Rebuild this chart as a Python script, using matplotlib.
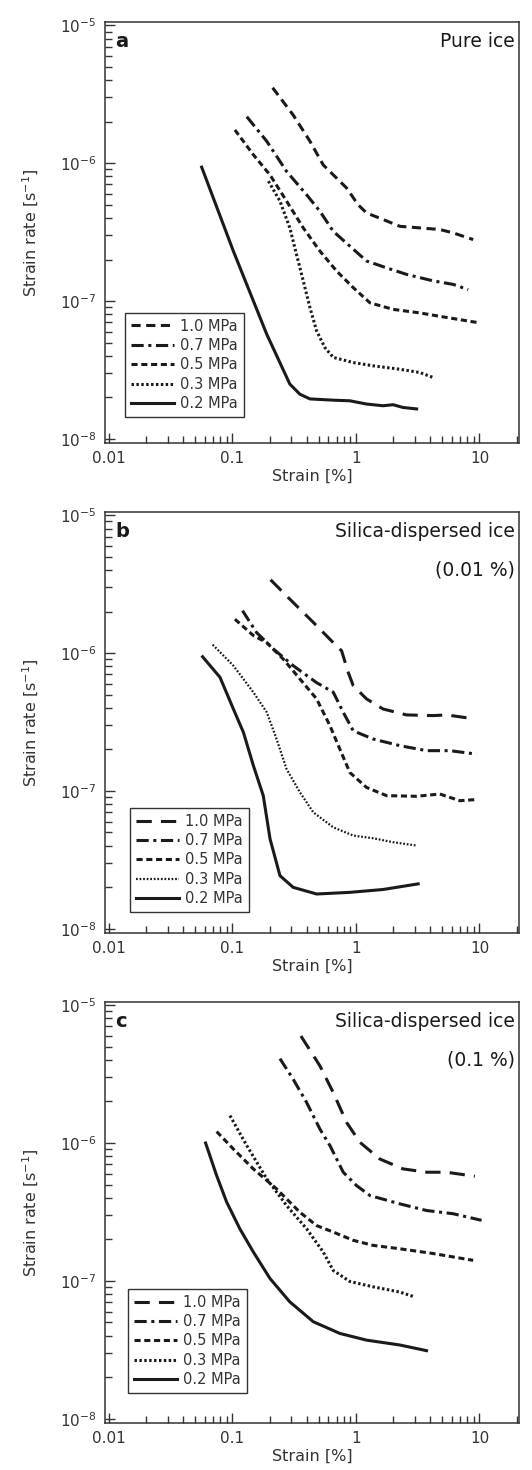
import matplotlib
matplotlib.use("Agg")
import matplotlib.pyplot as plt
from matplotlib.ticker import FixedLocator, FixedFormatter, LogLocator, NullFormatter

plt.rcParams['font.family'] = ['DejaVu Sans']
plt.rcParams['mathtext.fontset'] = 'dejavusans'
plt.rcParams['axes.unicode_minus'] = False

labels = ['1.0 MPa', '0.7 MPa', '0.5 MPa', '0.3 MPa', '0.2 MPa']

# panel a: pure ice
a_10_x = [0.212, 0.311, 0.425, 0.544, 0.841, 1.04, 1.22, 1.66, 2.27, 3.29, 4.78, 6.12, 8.89]
a_10_y = [3.52e-6, 2.23e-6, 1.44e-6, 9.7e-7, 6.6e-7, 5.0e-7, 4.35e-7, 3.9e-7, 3.48e-7, 3.39e-7, 3.3e-7, 3.12e-7, 2.79e-7]
a_07_x = [0.131, 0.19, 0.275, 0.399, 0.512, 0.656, 0.894, 1.22, 1.77, 2.57, 4.22, 6.12, 8.1]
a_07_y = [2.17e-6, 1.44e-6, 8.7e-7, 5.9e-7, 4.47e-7, 3.2e-7, 2.5e-7, 1.95e-7, 1.74e-7, 1.56e-7, 1.40e-7, 1.32e-7, 1.21e-7]
a_05_x = [0.105, 0.148, 0.202, 0.275, 0.375, 0.512, 0.698, 0.952, 1.30, 2.0, 3.29, 5.41, 9.46]
a_05_y = [1.74e-6, 1.15e-6, 8.2e-7, 5.3e-7, 3.39e-7, 2.3e-7, 1.65e-7, 1.25e-7, 9.7e-8, 8.7e-8, 8.2e-8, 7.6e-8, 7.0e-8]
a_03_x = [0.196, 0.243, 0.292, 0.331, 0.375, 0.425, 0.481, 0.561, 0.656, 0.952, 1.38, 2.27, 3.29, 4.22]
a_03_y = [7.4e-7, 5.3e-7, 3.39e-7, 2.17e-7, 1.40e-7, 8.95e-8, 6.07e-8, 4.6e-8, 3.9e-8, 3.58e-8, 3.39e-8, 3.2e-8, 3.03e-8, 2.79e-8]
a_02_x = [0.0565, 0.102, 0.19, 0.292, 0.352, 0.425, 0.656, 0.894, 1.22, 1.66, 2.0, 2.41, 3.1]
a_02_y = [9.35e-7, 2.3e-7, 5.74e-8, 2.5e-8, 2.11e-8, 1.95e-8, 1.91e-8, 1.89e-8, 1.79e-8, 1.74e-8, 1.77e-8, 1.69e-8, 1.65e-8]

# panel b: silica-dispersed ice (0.01 %)
b_10_x = [0.204, 0.292, 0.452, 0.656, 0.766, 0.867, 0.952, 1.22, 1.66, 2.57, 4.22, 5.41, 9.17]
b_10_y = [3.40e-6, 2.46e-6, 1.67e-6, 1.19e-6, 1.04e-6, 7.24e-7, 5.8e-7, 4.65e-7, 3.93e-7, 3.56e-7, 3.52e-7, 3.56e-7, 3.33e-7]
b_07_x = [0.121, 0.157, 0.215, 0.311, 0.481, 0.656, 0.79, 0.952, 1.38, 2.27, 3.73, 5.76, 9.46]
b_07_y = [2.03e-6, 1.41e-6, 1.07e-6, 8.1e-7, 6.1e-7, 5.2e-7, 3.72e-7, 2.73e-7, 2.38e-7, 2.13e-7, 1.96e-7, 1.96e-7, 1.85e-7]
b_05_x = [0.105, 0.148, 0.19, 0.258, 0.352, 0.481, 0.617, 0.742, 0.894, 1.22, 1.77, 3.1, 4.78, 6.93, 9.17]
b_05_y = [1.76e-6, 1.34e-6, 1.19e-6, 9.05e-7, 6.5e-7, 4.65e-7, 2.97e-7, 2.01e-7, 1.36e-7, 1.06e-7, 9.25e-8, 9.15e-8, 9.5e-8, 8.5e-8, 8.65e-8]
b_03_x = [0.0693, 0.102, 0.148, 0.19, 0.228, 0.275, 0.352, 0.452, 0.656, 0.952, 1.38, 2.0, 3.1]
b_03_y = [1.15e-6, 8.1e-7, 5.2e-7, 3.72e-7, 2.38e-7, 1.44e-7, 9.8e-8, 7.0e-8, 5.45e-8, 4.75e-8, 4.54e-8, 4.25e-8, 4.02e-8]
b_02_x = [0.0575, 0.0795, 0.102, 0.123, 0.148, 0.178, 0.202, 0.243, 0.311, 0.481, 0.894, 1.66, 3.19]
b_02_y = [9.4e-7, 6.67e-7, 3.93e-7, 2.66e-7, 1.53e-7, 9.25e-8, 4.49e-8, 2.43e-8, 2.0e-8, 1.79e-8, 1.84e-8, 1.93e-8, 2.12e-8]

# panel c: silica-dispersed ice (0.1 %)
c_10_x = [0.359, 0.512, 0.656, 0.841, 1.08, 1.56, 2.41, 3.73, 5.41, 9.17]
c_10_y = [5.97e-6, 3.62e-6, 2.32e-6, 1.41e-6, 1.01e-6, 7.66e-7, 6.49e-7, 6.14e-7, 6.14e-7, 5.74e-7]
c_07_x = [0.243, 0.311, 0.399, 0.512, 0.617, 0.79, 1.01, 1.30, 2.27, 3.73, 6.12, 10.4]
c_07_y = [4.09e-6, 2.9e-6, 1.97e-6, 1.26e-6, 9.57e-7, 6.14e-7, 4.92e-7, 4.16e-7, 3.62e-7, 3.24e-7, 3.07e-7, 2.75e-7]
c_05_x = [0.0747, 0.102, 0.148, 0.228, 0.352, 0.481, 0.656, 0.952, 1.38, 2.27, 4.22, 8.89]
c_05_y = [1.21e-6, 9.05e-7, 6.49e-7, 4.65e-7, 3.15e-7, 2.52e-7, 2.26e-7, 1.97e-7, 1.81e-7, 1.71e-7, 1.58e-7, 1.41e-7]
c_03_x = [0.0957, 0.131, 0.19, 0.275, 0.399, 0.544, 0.656, 0.894, 1.38, 2.27, 3.0]
c_03_y = [1.58e-6, 9.57e-7, 5.5e-7, 3.52e-7, 2.39e-7, 1.62e-7, 1.19e-7, 9.9e-8, 9.06e-8, 8.3e-8, 7.65e-8]
c_02_x = [0.0608, 0.0747, 0.09, 0.115, 0.148, 0.202, 0.292, 0.452, 0.742, 1.22, 2.27, 3.73]
c_02_y = [1.0e-6, 5.8e-7, 3.73e-7, 2.39e-7, 1.62e-7, 1.04e-7, 7.05e-8, 5.06e-8, 4.16e-8, 3.72e-8, 3.43e-8, 3.12e-8]

panels = [
    ('a', ['Pure ice'], [(a_10_x, a_10_y), (a_07_x, a_07_y), (a_05_x, a_05_y), (a_03_x, a_03_y), (a_02_x, a_02_y)]),
    ('b', ['Silica-dispersed ice', '(0.01 %)'], [(b_10_x, b_10_y), (b_07_x, b_07_y), (b_05_x, b_05_y), (b_03_x, b_03_y), (b_02_x, b_02_y)]),
    ('c', ['Silica-dispersed ice', '(0.1 %)'], [(c_10_x, c_10_y), (c_07_x, c_07_y), (c_05_x, c_05_y), (c_03_x, c_03_y), (c_02_x, c_02_y)]),
]

short_dash = (0, (3, 1.8))
long_dash = (0, (5, 3))
styles = [None, (0, (4, 1.5, 1, 1.5)), (0, (2, 1.2)), (0, (0.8, 0.8)), '-']

fig = plt.figure(figsize=(5.32, 14.7), dpi=100)
bottoms = [0.6986, 0.3653, 0.0320]
legend_pos = [(0.048, 0.062), (0.06, 0.05), (0.055, 0.071)]
col = '#1a1a1a'
grey = '#333333'

for i, (tag, title, series) in enumerate(panels):
    ax = fig.add_axes([0.1974, bottoms[i], 0.7782, 0.2866])
    ax.set_xscale('log')
    ax.set_yscale('log')
    for j, (xs, ys) in enumerate(series):
        ls = styles[j]
        if j == 0:
            ls = short_dash if tag == 'a' else long_dash
        lw = 2.2
        if tag == 'b' and j == 3:
            lw = 1.6
        ax.plot(xs, ys, color=col, lw=lw, linestyle=ls, label=labels[j])

    ax.set_xlim(10**-2.03, 10**1.32)
    ax.set_ylim(10**-8.03, 10**-4.975)
    ax.xaxis.set_major_locator(FixedLocator([0.01, 0.1, 1, 10]))
    ax.xaxis.set_major_formatter(FixedFormatter(['0.01', '0.1', '1', '10']))
    ax.yaxis.set_major_locator(FixedLocator([1e-8, 1e-7, 1e-6, 1e-5]))
    ax.yaxis.set_major_formatter(FixedFormatter(['$\\mathregular{10^{-8}}$', '$\\mathregular{10^{-7}}$',
                                                 '$\\mathregular{10^{-6}}$', '$\\mathregular{10^{-5}}$']))
    ax.xaxis.set_minor_locator(LogLocator(base=10, subs=range(2, 10), numticks=20))
    ax.yaxis.set_minor_locator(LogLocator(base=10, subs=range(2, 10), numticks=20))
    ax.xaxis.set_minor_formatter(NullFormatter())
    ax.yaxis.set_minor_formatter(NullFormatter())
    ax.tick_params(which='major', direction='in', length=7, width=1, labelsize=11, colors=grey, pad=6)
    ax.tick_params(which='minor', direction='in', length=5, width=1, colors=grey)
    for sp in ax.spines.values():
        sp.set_linewidth(1.1)
        sp.set_color(grey)

    ax.set_xlabel('Strain [%]', fontsize=11.5, color=grey, labelpad=2)
    ax.set_ylabel('Strain rate [s$^{\\mathregular{-1}}$]', fontsize=11.5, color=grey, labelpad=14)

    ax.text(0.025, 0.975, tag, transform=ax.transAxes, fontsize=14, fontweight='bold',
            ha='left', va='top', color=col)
    ax.text(0.99, 0.975, title[0], transform=ax.transAxes, fontsize=13.5,
            ha='right', va='top', color=col)
    if len(title) > 1:
        ax.text(0.99, 0.885, title[1], transform=ax.transAxes, fontsize=13.5,
                ha='right', va='top', color=col)

    leg = ax.legend(loc='lower left', bbox_to_anchor=legend_pos[i], fontsize=10.5,
                    handlelength=3.0, handletextpad=0.4, labelspacing=0.3,
                    borderpad=0.4, borderaxespad=0, fancybox=False, edgecolor=grey, framealpha=1)
    leg.get_frame().set_linewidth(1.0)
    for t in leg.get_texts():
        t.set_color(grey)

fig.savefig('out.png', dpi=100)
